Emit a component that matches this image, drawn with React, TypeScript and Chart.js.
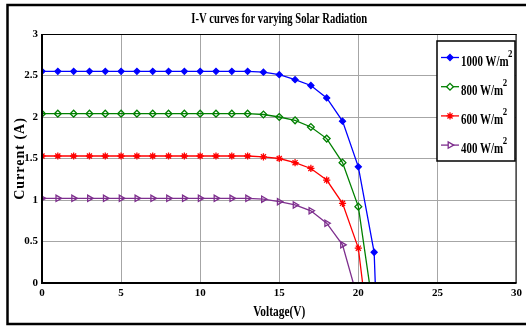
import React, { useEffect, useRef } from "react";
import { Chart, registerables } from "chart.js";
import { drawPoint } from "chart.js/helpers";

Chart.register(...registerables);

const chartTitle = "I-V curves for varying Solar Radiation";
const xAxisTitle = "Voltage(V)";
const yAxisTitle = "Current (A)";

const xTickValues = [0, 5, 10, 15, 20, 25, 30];
const yTickValues = [0, 0.5, 1, 1.5, 2, 2.5, 3];

const seriesLabels = ["1000 W/m²", "800 W/m²", "600 W/m²", "400 W/m²"];

const volts1000 = [0, 1, 2, 3, 4, 5, 6, 7, 8, 9, 10, 11, 12, 13, 14, 15, 16, 17, 18, 19, 20, 21, 21.07];
const amps1000 = [2.55, 2.55, 2.55, 2.55, 2.55, 2.55, 2.55, 2.55, 2.55, 2.55, 2.55, 2.55, 2.55, 2.55, 2.54, 2.51, 2.45, 2.38, 2.23, 1.95, 1.40, 0.37, 0];

const volts800 = [0, 1, 2, 3, 4, 5, 6, 7, 8, 9, 10, 11, 12, 13, 14, 15, 16, 17, 18, 19, 20, 20.7];
const amps800 = [2.04, 2.04, 2.04, 2.04, 2.04, 2.04, 2.04, 2.04, 2.04, 2.04, 2.04, 2.04, 2.04, 2.04, 2.03, 2.0, 1.96, 1.88, 1.74, 1.45, 0.92, 0];

const volts600 = [0, 1, 2, 3, 4, 5, 6, 7, 8, 9, 10, 11, 12, 13, 14, 15, 16, 17, 18, 19, 20, 20.27];
const amps600 = [1.53, 1.53, 1.53, 1.53, 1.53, 1.53, 1.53, 1.53, 1.53, 1.53, 1.53, 1.53, 1.53, 1.53, 1.52, 1.50, 1.45, 1.38, 1.24, 0.96, 0.42, 0];

const volts400 = [0, 1, 2, 3, 4, 5, 6, 7, 8, 9, 10, 11, 12, 13, 14, 15, 16, 17, 18, 19, 19.68];
const amps400 = [1.02, 1.02, 1.02, 1.02, 1.02, 1.02, 1.02, 1.02, 1.02, 1.02, 1.02, 1.02, 1.02, 1.02, 1.01, 0.98, 0.94, 0.87, 0.72, 0.46, 0];

const seriesVolts = [volts1000, volts800, volts600, volts400];
const seriesAmps = [amps1000, amps800, amps600, amps400];

const seriesColors = ["#0000ff", "#008000", "#ff0000", "#7e2f8e"];
const seriesStyles = [
  { pointStyle: "rectRot", radius: 3, rotation: 0, fill: true },
  { pointStyle: "rectRot", radius: 3.4, rotation: 0, fill: false },
  { pointStyle: "star", radius: 3.6, rotation: 0, fill: false },
  { pointStyle: "triangle", radius: 3.6, rotation: 90, fill: false },
];

const SERIF = "'Liberation Serif', 'Times New Roman', serif";

function drawScaledText(ctx: CanvasRenderingContext2D, text: string, x: number, y: number, font: string, align: CanvasTextAlign, sx: number) {
  ctx.save();
  ctx.translate(x, y);
  ctx.scale(sx, 1);
  ctx.font = font;
  ctx.textAlign = align;
  ctx.textBaseline = "alphabetic";
  ctx.fillStyle = "#000";
  ctx.fillText(text, 0, 0);
  ctx.restore();
}

const decorPlugin = {
  id: "decor",
  beforeDraw(chart: any) {
    const ctx = chart.ctx as CanvasRenderingContext2D;
    ctx.save();
    ctx.fillStyle = "#fff";
    ctx.fillRect(0, 0, chart.width, chart.height);
    ctx.strokeStyle = "#000";
    ctx.lineWidth = 2.5;
    ctx.strokeRect(7.5, 5, 540, 319);
    ctx.restore();
  },
  afterDraw(chart: any) {
    const ctx = chart.ctx as CanvasRenderingContext2D;
    const a = chart.chartArea;
    ctx.save();
    // axes box
    ctx.strokeStyle = "#000";
    ctx.lineWidth = 1;
    ctx.beginPath();
    ctx.moveTo(a.left, a.top + 0.5);
    ctx.lineTo(a.right, a.top + 0.5);
    ctx.moveTo(a.right - 0.5, a.top);
    ctx.lineTo(a.right - 0.5, a.bottom);
    ctx.stroke();
    ctx.lineWidth = 2;
    ctx.beginPath();
    ctx.moveTo(a.left, a.top);
    ctx.lineTo(a.left, a.bottom);
    ctx.lineTo(a.right, a.bottom);
    ctx.stroke();

    // title
    drawScaledText(ctx, chartTitle, (a.left + a.right) / 2, 23, `bold 14px ${SERIF}`, "center", 0.76);
    // x title
    drawScaledText(ctx, xAxisTitle, (a.left + a.right) / 2, 316, `bold 15px ${SERIF}`, "center", 0.76);
    // y title
    ctx.save();
    ctx.translate(24, (a.top + a.bottom) / 2);
    ctx.rotate(-Math.PI / 2);
    ctx.font = `bold 14px ${SERIF}`;
    (ctx as any).letterSpacing = "1px";
    ctx.textAlign = "center";
    ctx.fillStyle = "#000";
    ctx.fillText(yAxisTitle, 0, 0);
    ctx.restore();

    // legend
    const lx = 437, ly = 41, lw = 78, lh = 120;
    ctx.fillStyle = "#fff";
    ctx.fillRect(lx, ly, lw, lh);
    ctx.strokeStyle = "#000";
    ctx.lineWidth = 1.5;
    ctx.strokeRect(lx, ly, lw, lh);
    chart.data.datasets.forEach((ds: any, i: number) => {
      const y = 57.5 + i * 29.2;
      const col = seriesColors[i];
      const st = seriesStyles[i];
      ctx.strokeStyle = col;
      ctx.lineWidth = 1.3;
      ctx.beginPath();
      ctx.moveTo(441, y);
      ctx.lineTo(459, y);
      ctx.stroke();
      ctx.fillStyle = st.fill ? col : "#fff";
      ctx.strokeStyle = col;
      ctx.lineWidth = 1.3;
      drawPoint(ctx, { pointStyle: st.pointStyle as any, radius: st.radius, rotation: st.rotation, borderWidth: 1.3 } as any, 450, y);
      const label: string = ds.label;
      const parts = label.split("²");
      const base = parts[0];
      ctx.save();
      ctx.font = `bold 14px ${SERIF}`;
      const w = ctx.measureText(base).width * 0.78;
      ctx.restore();
      drawScaledText(ctx, base, 461, y + 8, `bold 14px ${SERIF}`, "left", 0.78);
      if (parts.length > 1) {
        drawScaledText(ctx, "2", 461 + w - 0.5, y - 1, `bold 11px ${SERIF}`, "left", 0.8);
      }
    });
    ctx.restore();
  },
};

export default function App() {
  const ref = useRef<HTMLCanvasElement | null>(null);
  useEffect(() => {
    document.body.style.margin = "0";
    const canvas = ref.current!;
    const datasets = seriesLabels.map((label, i) => {
      const vs = seriesVolts[i];
      const is = seriesAmps[i];
      const st = seriesStyles[i];
      return {
        label,
        data: vs.map((v, k) => ({ x: v, y: is[k] })),
        showLine: true,
        borderColor: seriesColors[i],
        backgroundColor: st.fill ? seriesColors[i] : "rgba(255,255,255,0)",
        borderWidth: 1.3,
        pointStyle: st.pointStyle,
        rotation: st.rotation,
        pointRadius: vs.map((_, k) => (k === vs.length - 1 ? 0 : st.radius)),
        pointBorderColor: seriesColors[i],
        pointBackgroundColor: st.fill ? seriesColors[i] : "rgba(255,255,255,0)",
        pointBorderWidth: 1.3,
        tension: 0,
      };
    });
    const tickFont = { family: SERIF, size: 11, weight: "bold" as const };
    const chart = new Chart(canvas, {
      type: "scatter",
      data: { datasets },
      options: {
        animation: false,
        responsive: false,
        devicePixelRatio: 1,
        layout: { padding: { top: 34, right: 9, left: 0, bottom: 0 } },
        plugins: { legend: { display: false }, title: { display: false }, tooltip: { enabled: false } },
        scales: {
          x: {
            type: "linear",
            min: 0,
            max: 30,
            afterBuildTicks: (s: any) => {
              s.ticks = xTickValues.map((v) => ({ value: v }));
            },
            afterFit: (s: any) => {
              s.height = 47;
            },
            ticks: { color: "#000", font: tickFont, padding: 4, maxRotation: 0, callback: (v: any) => String(v) },
            grid: { color: "#a6a6a6", lineWidth: 1, drawTicks: false },
            border: { display: false },
          },
          y: {
            type: "linear",
            min: 0,
            max: 3,
            afterBuildTicks: (s: any) => {
              s.ticks = yTickValues.map((v) => ({ value: v }));
            },
            afterFit: (s: any) => {
              s.width = 42;
            },
            ticks: { color: "#000", font: tickFont, padding: 4, callback: (v: any) => String(v) },
            grid: { color: "#a6a6a6", lineWidth: 1, drawTicks: false },
            border: { display: false },
          },
        },
      },
      plugins: [decorPlugin],
    } as any);
    return () => chart.destroy();
  }, []);
  return (
    <div style={{ position: "absolute", left: 0, top: 0, width: 526, height: 330 }}>
      <canvas ref={ref} width={526} height={330} />
    </div>
  );
}
